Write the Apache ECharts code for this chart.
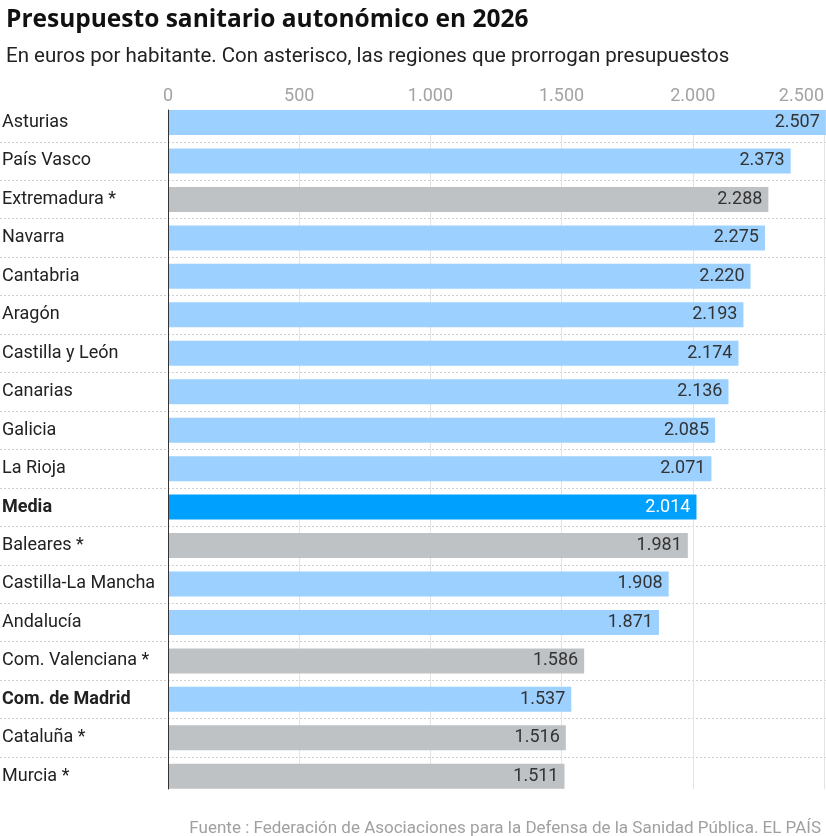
<!DOCTYPE html>
<html>
<head>
<meta charset="utf-8">
<script src="https://cdn.jsdelivr.net/npm/echarts@6/dist/echarts.min.js"></script>
<style>
  html, body { margin: 0; padding: 0; background: #fff; }
  #main { width: 826px; height: 836px; }
</style>
</head>
<body>
<div id="main"></div>
<script>
// regiones (con asterisco: prorrogan presupuestos)
var regiones = ["Asturias", "País Vasco", "Extremadura *", "Navarra", "Cantabria", "Aragón",
  "Castilla y León", "Canarias", "Galicia", "La Rioja", "Media", "Baleares *",
  "Castilla-La Mancha", "Andalucía", "Com. Valenciana *", "Com. de Madrid", "Cataluña *", "Murcia *"];
// euros por habitante
var euros = [2507, 2373, 2288, 2275, 2220, 2193, 2174, 2136, 2085, 2071, 2014, 1981,
  1908, 1871, 1586, 1537, 1516, 1511];
var ticks = [0, 500, 1000, 1500, 2000, 2500];

var fuente = "Roboto, 'Liberation Sans', sans-serif";
var fuenteTitulo = "'Open Sans', Roboto, sans-serif";
var destacadas = ["Media", "Com. de Madrid"];

function miles(n) {
  return String(n).replace(/\B(?=(\d{3})+(?!\d))/g, ".");
}

function colorBarra(nombre) {
  if (nombre === "Media") return "#00a0ff";
  if (nombre.indexOf("*") >= 0) return "#bec2c5";
  return "#9bd0ff";
}

var myChart = echarts.init(document.getElementById("main"));
myChart.setOption({
  animation: false,
  textStyle: { fontFamily: fuente },
  title: [
    {
      text: "Presupuesto sanitario autonómico en 2026",
      left: 1, top: 3,
      textStyle: { fontSize: 24.5, fontWeight: "bold", color: "#111", fontFamily: fuenteTitulo }
    },
    {
      text: "En euros por habitante. Con asterisco, las regiones que prorrogan presupuestos",
      left: 1, top: 41,
      textStyle: { fontSize: 20.5, fontWeight: "normal", color: "#222", fontFamily: fuente }
    },
    {
      text: "Fuente : Federación de Asociaciones para la Defensa de la Sanidad Pública. EL PAÍS",
      right: 0, top: 815,
      textStyle: { fontSize: 17, fontWeight: "normal", color: "#a0a0a0", fontFamily: fuente }
    }
  ],
  grid: [
    // barras
    { left: 168, right: 2, top: 103.3, bottom: 40.5, outerBoundsMode: "none" },
    // separadores punteados a todo el ancho
    { left: 0, right: 0, top: 103.3, bottom: 40.5, outerBoundsMode: "none" },
    // rejilla vertical, eje y etiquetas
    { left: 168, right: 2, top: 110, bottom: 47, outerBoundsMode: "none" }
  ],
  xAxis: [
    { gridIndex: 0, type: "value", min: 0, max: 2500, interval: 500, show: false },
    { gridIndex: 1, type: "value", min: 0, max: 1, show: false },
    {
      gridIndex: 2, type: "value", position: "top", min: 0, max: 2500, interval: 500,
      axisLine: { show: false }, axisTick: { show: false },
      axisLabel: {
        color: "#a3a3a3", fontSize: 18, margin: 5, alignMaxLabel: "right",
        customValues: ticks,
        formatter: function (v) { return miles(v); }
      },
      splitLine: { show: true, lineStyle: { color: "#e3e3e3", width: 1 } }
    }
  ],
  yAxis: [
    {
      gridIndex: 0, type: "category", inverse: true,
      data: regiones.map(function (r) {
        return destacadas.indexOf(r) >= 0
          ? { value: r, textStyle: { fontWeight: "bold", align: "left", padding: [6, 0, 0, 0] } }
          : r;
      }),
      axisLine: { show: false }, axisTick: { show: false },
      axisLabel: { align: "left", margin: 166, fontSize: 18, color: "#222", padding: [6, 0, 0, 0] }
    },
    {
      gridIndex: 1, type: "category", inverse: true, data: regiones,
      axisLine: { show: false }, axisTick: { show: false }, axisLabel: { show: false },
      splitLine: {
        show: true, showMinLine: false, showMaxLine: false,
        lineStyle: { color: "#cfcfcf", type: [2, 2], width: 1 }
      }
    },
    {
      gridIndex: 2, type: "category", inverse: true, data: regiones, z: 10,
      axisLine: { show: true, onZero: false, lineStyle: { color: "#333", width: 1 } },
      axisTick: { show: false }, axisLabel: { show: false }, splitLine: { show: false }
    }
  ],
  series: [
    {
      type: "bar",
      xAxisIndex: 0, yAxisIndex: 0,
      barWidth: 25,
      clip: false,
      data: euros.map(function (v, i) {
        return {
          value: v,
          itemStyle: { color: colorBarra(regiones[i]) },
          label: regiones[i] === "Media" ? { color: "#fff" } : undefined
        };
      }),
      label: {
        show: true, position: "insideRight", distance: 6,
        fontSize: 18, color: "#333", padding: [3, 0, 0, 0],
        formatter: function (p) { return miles(p.value); }
      }
    }
  ]
});
window.addEventListener("resize", function () {
  myChart.resize();
});
</script>
</body>
</html>
